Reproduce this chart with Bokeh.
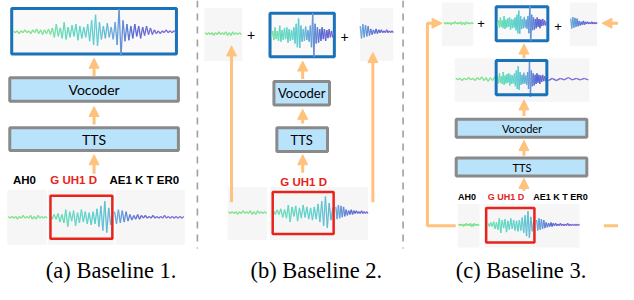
import numpy as np
from bokeh.plotting import figure
from bokeh.models import Range1d, Arrow, NormalHead
from bokeh.core.properties import value
from bokeh.embed import file_html
from bokeh.resources import INLINE

# ---------------- data ----------------
# source utterance waveform (signed amplitudes, px), phoneme regions
orig_ah0 = [1, -1, 1, -1, 1, -2, 1, -1, 2, -1, 1, -1, 2, -2, 1, -2, 2, -1, 1, -1, 1, -1]
orig_guhd = [2, -2, 3, -2, 4, -5, 3, -6, 8, -10, 6, -4, 7, -9, 5, -6, 8, -5, 6, -7, 5, -8,
             6, -7, 9, -10, 12, -14, 17, -16, 10, -8, 5]
orig_ae1 = [6, -7, 8, -6, 7, -5, 6, -4, 3, -3, 2, -2, 3, -2, 2, -1, 2, -1]
orig_tail = [1, -1, 2, -1, 1, -1, 1, -1, 2, -1, 1, -1, 1, -1, 1, -1, 1, -1, 1]
# generated waveform
gen_lead = [1, -1, 1, -2, 1, -1, 2, -1, 1, -2, 2, -1, 3, -2, 2, -3, 2, -2, 3]
gen_mid = [-3, 4, -6, 8, -5, 4, -7, 10, -8, 5, -6, 7, -5, 8, -9, 6, -7, 5, -6, 8, -10, 12, -14, 18, -15,
           10, -8, 6, -7, 9, -6, 5, -8, 10, -14, 24, -25, 12, -10, 8, -9, 6,
           -7, 8, -5, 6, -7, 5, -4, 6, -3, 4, -3, 2]
gen_tail = [-2, 1, -2, 1, -1, 2, -1, 1, -1, 1, -1]

phonemes = ["AH0", "G UH1 D", "AE1 K T ER0"]
module_labels = ["Vocoder", "TTS"]
captions = ["(a) Baseline 1.", "(b) Baseline 2.", "(c) Baseline 3."]

# ---------------- styles ----------------
ORANGE = "#ffc27d"
BOXFILL = "#b9e3fb"
BOXLINE = "#8a8a8a"
BLUE = "#1a72b9"
RED = "#e8231b"
PATCH = "#f6f6f6"

orig = orig_ah0 + orig_guhd + orig_ae1 + orig_tail
gen = gen_lead + gen_mid + gen_tail
n_ah0, n_guhd, n_ae1 = len(orig_ah0), len(orig_guhd), len(orig_ae1)
n_lead, n_mid = len(gen_lead), len(gen_mid)

stops = [0.0, 0.22, 0.3, 0.5, 0.62, 0.75, 1.0]
stop_cols = ["#7fe07c", "#7de39a", "#66dcbc", "#5fcfd0", "#6aa8dc", "#5a66d0", "#8a6ad8"]


def hex2rgb(h):
    return [int(h[i:i + 2], 16) for i in (1, 3, 5)]


stop_rgb = np.array([hex2rgb(c) for c in stop_cols], dtype=float)


def grad(f):
    r = np.interp(f, stops, stop_rgb[:, 0])
    g = np.interp(f, stops, stop_rgb[:, 1])
    b = np.interp(f, stops, stop_rgb[:, 2])
    return "#%02x%02x%02x" % (int(r), int(g), int(b))


p = figure(width=618, height=284, output_backend="svg", toolbar_location=None,
           x_range=Range1d(0, 634), y_range=Range1d(300, 0),
           x_axis_type=None, y_axis_type=None, min_border=0)
p.outline_line_color = None
p.xgrid.visible = False
p.ygrid.visible = False
p.background_fill_color = "white"


def wave(vals, i0, i1, x0, x1, yc, s):
    seg = np.array(vals[i0:i1 + 1], dtype=float)
    n = len(seg)
    xs = np.linspace(x0, x1, n)
    ys = yc - s * seg
    tot = len(vals) - 1
    cols = [grad((i0 + k + 0.5) / tot) for k in range(n - 1)]
    p.segment(xs[:-1], ys[:-1], xs[1:], ys[1:], line_color=cols, line_width=1.3)


def patch(l, r, t, b):
    p.quad(left=l, right=r, top=t, bottom=b, fill_color=PATCH, line_color=None)


def box(l, r, t, b, color, lw, fill=None):
    p.quad(left=l, right=r, top=t, bottom=b, fill_color=fill, fill_alpha=1 if fill else 0,
           line_color=color, line_width=lw)


def arrow(x0, y0, x1, y1):
    p.add_layout(Arrow(end=NormalHead(size=10, fill_color=ORANGE, line_color=ORANGE, line_width=1),
                       x_start=x0, y_start=y0, x_end=x1, y_end=y1,
                       line_color=ORANGE, line_width=3))


def label(x, y, t, size, font="Lato", color="black", style="normal", baseline="middle"):
    p.text([x], [y], text=[t], text_font=value(font), text_font_size=size,
           text_color=color, text_font_style=style, text_align="center", text_baseline=baseline)


def orig_wave(xa, xb, xc, yc, s, last=None):
    last = len(orig) - 1 if last is None else last
    wave(orig, 0, n_ah0 - 1, xa[0], xa[1], yc, s)
    wave(orig, n_ah0, n_ah0 + n_guhd - 1, xb[0], xb[1], yc, s)
    wave(orig, n_ah0 + n_guhd, last, xc[0], xc[1], yc, s)


# dashed separators
for xs in (202, 413):
    p.line([xs, xs], [0, 262], line_color="#a0a0a0", line_width=1.6, line_dash="7 6")

# ================= panel (a) =================
box(11.5, 180.5, 8.5, 56.5, BLUE, 3, fill="#f9f9f9")
wave(gen, 0, len(gen) - 1, 13, 180, 33, 1.0)
box(9.5, 182.5, 81.5, 106.5, BOXLINE, 3, fill=BOXFILL)
label(96, 94.5, module_labels[0], "14px")
box(9.5, 182.5, 134.5, 158.5, BOXLINE, 3, fill=BOXFILL)
label(96, 147, module_labels[1], "14px")
arrow(96, 80, 96, 61)
arrow(96, 131, 96, 112)
arrow(96, 183, 96, 163)
label(24.5, 190, phonemes[0], "11.5px", font="Liberation Sans", style="bold")
label(75, 190, phonemes[1], "11.5px", font="Liberation Sans", style="bold", color=RED)
label(147.5, 190, phonemes[2], "11.5px", font="Liberation Sans", style="bold")
patch(7, 47.5, 200, 258)
patch(49, 116.5, 200, 258)
patch(118, 189, 200, 258)
orig_wave((8, 48), (51, 115), (117, 188), 229, 1.0)
box(51.25, 114.75, 206.25, 251.75, RED, 2.5)

# ================= panel (b) =================
patch(209, 248, 8, 64)
patch(369, 403, 8, 64)
wave(orig, 0, n_ah0 - 1, 210, 247, 35, 1.0)
label(257, 36, "+", "14px", font="Liberation Sans")
box(276.5, 342.5, 13.5, 59.5, BLUE, 3, fill="#f9f9f9")
wave(gen, n_lead, n_lead + n_mid - 1, 278, 342, 36, 0.95)
label(353, 39, "+", "14px", font="Liberation Sans")
wave(orig, n_ah0 + n_guhd, n_ah0 + n_guhd + n_ae1 + 7, 369, 403, 33, 1.0)
box(280.5, 337.5, 85.5, 110.5, BOXLINE, 3, fill=BOXFILL)
label(309, 98, module_labels[0], "13px")
box(283.5, 335.5, 134.5, 159.5, BOXLINE, 3, fill=BOXFILL)
label(309, 147.5, module_labels[1], "13px")
arrow(310, 83, 310, 64)
arrow(310, 130, 310, 115)
arrow(310, 182, 310, 163)
arrow(237, 213, 237, 48)
arrow(382, 213, 382, 55)
label(311, 192, phonemes[1], "11.5px", font="Liberation Sans", style="bold", color=RED)
patch(233, 273.5, 197, 253)
patch(276.5, 377, 197, 253)
orig_wave((234, 273), (280, 341), (344, 377), 224, 1.0, last=n_ah0 + n_guhd + n_ae1 + 7)
box(279.25, 341.75, 202.25, 246.75, RED, 2.5)

# ================= panel (c) =================
patch(453, 485, 2, 48)
patch(584, 612, 2, 48)
wave(orig, 0, n_ah0 - 1, 455, 485, 24, 0.8)
label(493, 24.5, "+", "13px", font="Liberation Sans")
box(508.5, 561.5, 6.5, 42.5, BLUE, 3, fill="#f9f9f9")
wave(gen, n_lead, n_lead + n_mid - 1, 510, 560, 24, 0.75)
label(572, 27, "+", "13px", font="Liberation Sans")
wave(orig, n_ah0 + n_guhd, n_ah0 + n_guhd + n_ae1 + 7, 585, 612, 24, 0.8)
arrow(640, 24, 617, 24)
p.line([467, 438, 438, 446], [238, 238, 24, 24], line_color=ORANGE, line_width=3)
arrow(444, 24, 453, 24)
p.line([619, 640], [238, 238], line_color=ORANGE, line_width=3)

patch(466, 604, 61, 107)
wave(gen, 0, n_lead - 1, 467, 507, 83, 0.8)
wave(gen, n_lead, n_lead + n_mid - 1, 509, 560, 83, 0.75)
wave(gen, n_lead + n_mid, len(gen) - 1, 562, 603, 83, 0.8)
box(508.5, 560.5, 63.5, 99.5, BLUE, 3)
arrow(537, 61, 537, 46)
arrow(537, 122, 537, 105)
box(467.5, 601.5, 125.5, 144.5, BOXLINE, 3, fill=BOXFILL)
label(535, 135.5, module_labels[0], "11px")
arrow(537, 164, 537, 148)
box(467.5, 601.5, 166.5, 185.5, BOXLINE, 3, fill=BOXFILL)
label(535, 176.5, module_labels[1], "11px")
arrow(537, 201, 537, 188)
label(478.5, 208, phonemes[0], "9px", font="Liberation Sans", style="bold")
label(518.5, 208, phonemes[1], "9px", font="Liberation Sans", style="bold", color=RED)
label(574.5, 208, phonemes[2], "9px", font="Liberation Sans", style="bold")
patch(469, 491.5, 215, 261)
patch(496, 594, 215, 261)
orig_wave((470, 491), (500, 547), (550, 594), 237, 0.85)
box(498.25, 547.75, 219.25, 255.75, RED, 2.5)

# captions
for cx, t in zip((113.5, 324, 534), captions):
    label(cx, 285.5, t, "22.5px", font="Liberation Serif", baseline="middle")

open("out.html", "w").write(file_html(p, INLINE))
